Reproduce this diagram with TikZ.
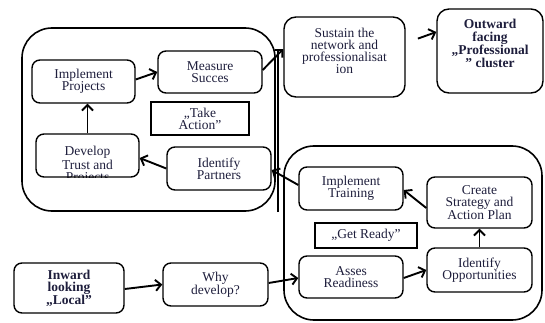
\documentclass[tikz,border=0pt]{standalone}
\usepackage{fontspec}
\setmainfont{Liberation Serif}
\usetikzlibrary{arrows.meta,positioning}

\definecolor{inkcol}{RGB}{30,30,60}

\begin{document}
\begin{tikzpicture}[
    x=1pt, y=-1pt,
    frame/.style={rectangle, draw, line width=1.6pt, rounded corners=30pt},
    box/.style={rectangle, draw, line width=1.4pt, rounded corners=8pt, align=center, text=inkcol, font=\fontsize{13.5}{12}\selectfont},
    tagbox/.style={rectangle, draw, line width=2.2pt, align=center, text=inkcol, font=\fontsize{13.5}{12}\selectfont},
    arrow/.style={-{Straight Barb[length=5.5pt,width=11pt]}, line width=1.9pt},
    link/.style={line width=1.6pt}
]
\useasboundingbox (0,0) rectangle (545,323);

% Containers
\node[frame, minimum width=253pt, minimum height=183pt] (actionframe) at (148.5,119.5) {};
\node[frame, minimum width=258pt, minimum height=174pt] (readyframe) at (413,233) {};

% Take action loop
\node[box, minimum width=103pt, minimum height=43pt] (impl) at (83.5,81.5) {Implement\\Projects};
\node[box, minimum width=104pt, minimum height=42pt] (measure) at (210,72) {Measure\\Succes};
\node[tagbox, minimum width=98pt, minimum height=33pt] (takeaction) at (200,118.5) {„Take\\Action”};
\node[box, minimum width=103pt, minimum height=43pt,
      path picture={\node[below, inner sep=0pt, align=center, text=inkcol, font=\fontsize{13.5}{12}\selectfont]
        at ([yshift=-9pt]path picture bounding box.north) {Develop\\Trust and\\Projects};}] (trust) at (87.5,155.5) {};
\node[box, minimum width=104pt, minimum height=43pt] (partners) at (219,168.5) {Identify\\Partners};

% Outcomes
\node[box, minimum width=121pt, minimum height=80pt, rounded corners=12pt] (sustain) at (344.5,57) {};
\node[box, below=11pt of sustain.north, draw=none, inner sep=0pt] (sustaintext) {Sustain the\\network and\\professionalisat\\ion};
\node[box, minimum width=106pt, minimum height=84pt, rounded corners=12pt] (outward) at (490,51) {};
\node[box, below=10pt of outward.north, draw=none, inner sep=0pt, font=\fontsize{13.5}{13}\selectfont\bfseries] (outwardtext) {Outward\\facing\\„Professional\\” cluster};

% Get ready loop
\node[box, minimum width=104pt, minimum height=43pt] (training) at (351,188.5) {Implement\\Training};
\node[box, minimum width=105pt, minimum height=51pt] (strategy) at (479.5,202.5) {Create\\Strategy and\\Action Plan};
\node[tagbox, minimum width=102pt, minimum height=25pt] (getready) at (366,235.5) {„Get Ready”};
\node[box, minimum width=104pt, minimum height=42pt] (asses) at (351,277) {Asses\\Readiness};
\node[box, minimum width=105pt, minimum height=44pt] (opport) at (479.5,270) {Identify\\Opportunities};

% Start
\node[box, minimum width=110pt, minimum height=50pt, font=\fontsize{13.5}{12.5}\selectfont\bfseries] (inward) at (69,288) {Inward\\looking\\„Local”};
\node[box, minimum width=105pt, minimum height=43pt] (why) at (215.5,284.5) {Why\\develop?};

\coordinate (tip) at ([yshift=8pt]sustain.west);
\coordinate (rise) at (278,212);

% Arrows
\draw[arrow] ([yshift=-1pt]inward.east) -- (why.west);
\draw[arrow] ([yshift=1.5pt]why.east) -- ([yshift=-1pt]asses.west);
\draw[arrow] ([yshift=-1pt]asses.east) -- (opport.west);
\draw[arrow] (opport.north) -- (strategy.south);
\draw[arrow] ([yshift=-5.5pt]strategy.west) -- ([yshift=-1.5pt]training.east);
\draw[arrow] ([yshift=3.5pt]training.west) -- ([yshift=-1.5pt]partners.east);
\draw[arrow] (partners.west) -- ([yshift=-2.5pt]trust.east);
\draw[arrow] (trust.north) -- (trust.north |- impl.south);
\draw[arrow] ([yshift=2pt]impl.east) -- (measure.west);
\draw[arrow] ([yshift=2pt]measure.east) -- (tip);
\draw[link] (rise) -- ([yshift=-2pt]rise |- tip);
\draw[arrow, shorten <=13pt] ([yshift=14pt]sustain.east) -- ([yshift=19pt]outward.west);

\end{tikzpicture}
\end{document}
